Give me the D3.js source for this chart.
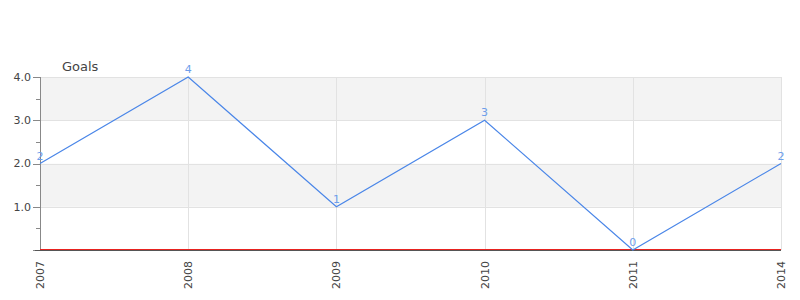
<!DOCTYPE html>
<html>
<head>
<meta charset="utf-8">
<script src="https://cdn.jsdelivr.net/npm/d3@7"></script>
<style>
  body { margin: 0; background: #fff; }
  text { font-family: "DejaVu Sans", sans-serif; }
</style>
</head>
<body>
<script>
// chart data
var years = ['2007', '2008', '2009', '2010', '2011', '2014'];
var goals = [2, 4, 1, 3, 0, 2];
var yTicks = [1, 2, 3, 4];
var yTitle = 'Goals';

var width = 800;
var height = 300;
var margin = { top: 77, right: 19, bottom: 50, left: 40 };
var w = width - margin.left - margin.right;
var h = height - margin.top - margin.bottom;

var svg = d3.select('body')
  .append('svg')
  .attr('width', width)
  .attr('height', height);

var g = svg.append('g')
  .attr('transform', 'translate(' + margin.left + ',' + margin.top + ')');

var x = d3.scalePoint()
  .domain(years)
  .range([0, w]);

var y = d3.scaleLinear()
  .domain([0, 4])
  .range([h, 0]);

// alternating bands
var bands = [0, 1, 2, 3];
g.selectAll('.band')
  .data(bands)
  .enter()
  .append('rect')
  .attr('x', 0)
  .attr('width', w)
  .attr('y', function (d) { return y(d + 1); })
  .attr('height', function (d) { return y(d) - y(d + 1); })
  .attr('fill', function (d) { return d % 2 === 1 ? '#f3f3f3' : '#ffffff'; });

// horizontal grid
g.selectAll('.hgrid')
  .data(yTicks)
  .enter()
  .append('line')
  .attr('x1', 0)
  .attr('x2', w)
  .attr('y1', function (d) { return Math.round(y(d)) + 0.5; })
  .attr('y2', function (d) { return Math.round(y(d)) + 0.5; })
  .attr('stroke', '#e2e2e2');

// vertical grid
g.selectAll('.vgrid')
  .data(years)
  .enter()
  .append('line')
  .attr('x1', function (d) { return Math.round(x(d)) + 0.5; })
  .attr('x2', function (d) { return Math.round(x(d)) + 0.5; })
  .attr('y1', 0)
  .attr('y2', h)
  .attr('stroke', '#e2e2e2');

// y axis: major and minor ticks
var yAxis = g.append('g').attr('class', 'y-axis');
yAxis.append('line')
  .attr('x1', 0.5).attr('x2', 0.5)
  .attr('y1', 0).attr('y2', h)
  .attr('stroke', '#888');

var minor = [0.5, 1.5, 2.5, 3.5];
yAxis.selectAll('.minor')
  .data(minor)
  .enter()
  .append('line')
  .attr('x1', -4).attr('x2', 0)
  .attr('y1', function (d) { return Math.round(y(d)) + 0.5; })
  .attr('y2', function (d) { return Math.round(y(d)) + 0.5; })
  .attr('stroke', '#888');

yAxis.selectAll('.major')
  .data([0].concat(yTicks))
  .enter()
  .append('line')
  .attr('x1', -7).attr('x2', 0)
  .attr('y1', function (d) { return Math.round(y(d)) + 0.5; })
  .attr('y2', function (d) { return Math.round(y(d)) + 0.5; })
  .attr('stroke', '#888');

yAxis.selectAll('.ylabel')
  .data(yTicks)
  .enter()
  .append('text')
  .attr('x', -9)
  .attr('y', function (d) { return y(d); })
  .attr('dy', '0.35em')
  .attr('text-anchor', 'end')
  .attr('font-size', 11)
  .attr('fill', '#444')
  .text(function (d) { return d.toFixed(1); });

// axis title
svg.append('text')
  .attr('x', 62)
  .attr('y', 71)
  .attr('font-size', 13)
  .attr('fill', '#444')
  .text(yTitle);

// x axis baseline
g.append('line')
  .attr('x1', 0).attr('x2', w)
  .attr('y1', h - 0.5).attr('y2', h - 0.5)
  .attr('stroke', '#e8221f');
g.append('line')
  .attr('x1', -5).attr('x2', w)
  .attr('y1', h + 0.5).attr('y2', h + 0.5)
  .attr('stroke', '#555');

// x labels rotated
g.selectAll('.xlabel')
  .data(years)
  .enter()
  .append('text')
  .attr('transform', function (d) {
    return 'translate(' + (x(d) + 4) + ',' + (h + 11) + ') rotate(-90)';
  })
  .attr('text-anchor', 'end')
  .attr('font-size', 11)
  .attr('fill', '#444')
  .text(function (d) { return d; });

// line
var line = d3.line()
  .x(function (d, i) { return x(years[i]); })
  .y(function (d) { return y(d); });

g.append('path')
  .datum(goals)
  .attr('d', line)
  .attr('fill', 'none')
  .attr('stroke', '#4a86e8')
  .attr('stroke-width', 1.2);

// point labels
g.selectAll('.plabel')
  .data(goals)
  .enter()
  .append('text')
  .attr('x', function (d, i) { return x(years[i]); })
  .attr('y', function (d) { return y(d) - 4; })
  .attr('text-anchor', 'middle')
  .attr('font-size', 11)
  .attr('fill', '#6d9eeb')
  .text(function (d) { return d; });
</script>
</body>
</html>
